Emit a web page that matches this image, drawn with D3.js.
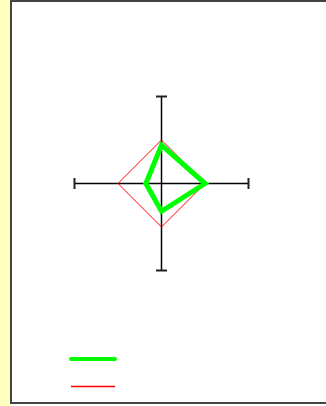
<!DOCTYPE html>
<html>
<head>
<meta charset="utf-8">
<script src="https://cdn.jsdelivr.net/npm/d3@7"></script>
<style>
  html, body { margin: 0; padding: 0; background: #fff; }
  svg { display: block; }
</style>
</head>
<body>
<div id="chart"></div>
<script>
// axes of the radar, clockwise from the top
const axes = ["A", "B", "C", "D"];
const seriesNames = ["Series 1", "Series 2"];
const seriesColors = ["#00ff00", "#ff0000"];
const seriesWidths = [5, 1];
const greenValues = [0.44, 0.5, 0.32, 0.18];
const redValues = [0.5, 0.5, 0.5, 0.5];
const series = [greenValues, redValues];

const width = 326, height = 406;
const cx = 161.5, cy = 183.5;
const radius = 87;

const svg = d3.select("#chart").append("svg")
    .attr("width", width)
    .attr("height", height);

// yellow strip on the left and the framed panel
svg.append("rect")
    .attr("x", 0).attr("y", 0)
    .attr("width", 11).attr("height", height)
    .attr("fill", "#ffffc0");

svg.append("rect")
    .attr("x", 11).attr("y", 1)
    .attr("width", width + 5).attr("height", 402)
    .attr("fill", "#fff")
    .attr("stroke", "#444")
    .attr("stroke-width", 2);

const r = d3.scaleLinear().domain([0, 1]).range([0, radius]);
const angle = d3.scalePoint().domain(axes).range([0, 2 * Math.PI * (axes.length - 1) / axes.length]);

const g = svg.append("g").attr("transform", `translate(${cx},${cy})`);

// axis spokes with end caps
const spokes = g.selectAll(".spoke")
    .data(axes)
    .join("g")
    .attr("class", "spoke")
    .attr("transform", d => `rotate(${angle(d) * 180 / Math.PI})`);

spokes.append("line")
    .attr("x1", 0).attr("y1", 0)
    .attr("x2", 0).attr("y2", -r(1))
    .attr("stroke", "#000")
    .attr("stroke-width", 1.5);

spokes.append("line")
    .attr("x1", -5.5).attr("x2", 5.5)
    .attr("y1", -r(1)).attr("y2", -r(1))
    .attr("stroke", "#222")
    .attr("stroke-width", 2);

const radial = d3.lineRadial()
    .angle((d, i) => angle(axes[i]))
    .radius(d => r(d))
    .curve(d3.curveLinearClosed);

// draw red under green
[1, 0].forEach(k => {
    g.append("path")
        .datum(series[k])
        .attr("d", radial)
        .attr("fill", "none")
        .attr("stroke", seriesColors[k])
        .attr("stroke-width", seriesWidths[k])
        .attr("stroke-linejoin", "miter");
});

// legend (lines only)
const legendY = d3.scalePoint().domain(seriesNames).range([359, 386.5]);
svg.selectAll(".legend")
    .data(seriesNames)
    .join("line")
    .attr("class", "legend")
    .attr("x1", 71)
    .attr("x2", 115)
    .attr("y1", d => legendY(d))
    .attr("y2", d => legendY(d))
    .attr("stroke", (d, i) => seriesColors[i])
    .attr("stroke-width", (d, i) => i === 0 ? 4 : 1.5)
    .attr("stroke-linecap", (d, i) => i === 0 ? "round" : "butt");
</script>
</body>
</html>
